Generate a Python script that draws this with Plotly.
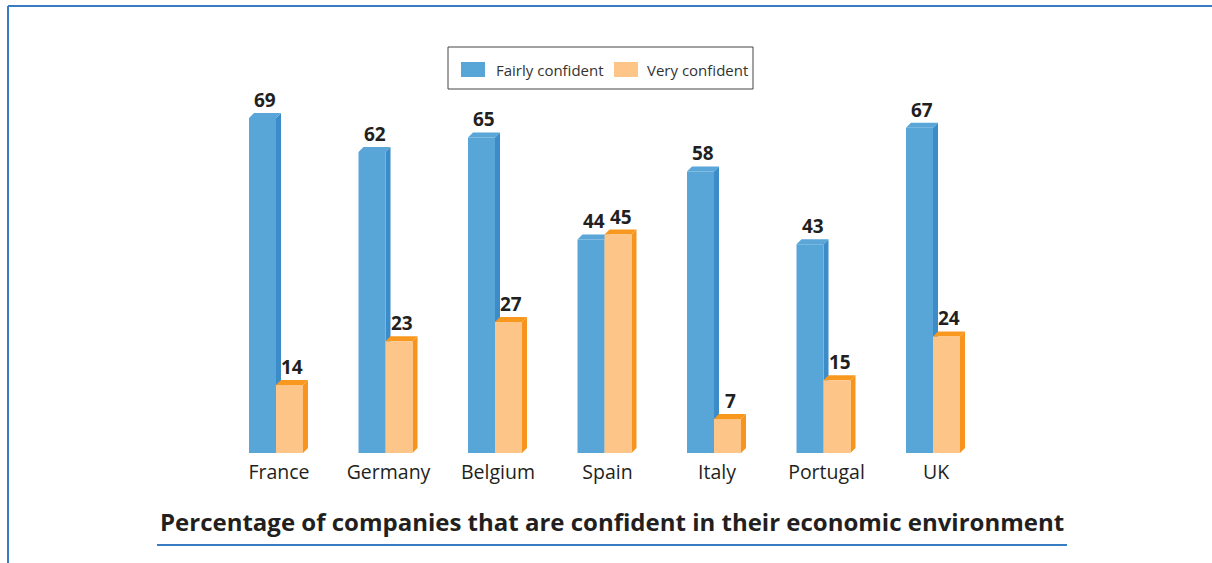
import plotly.graph_objects as go

# Survey results by country (percent of companies)
countries = ["France", "Germany", "Belgium", "Spain", "Italy", "Portugal", "UK"]
fairly_confident = [69, 62, 65, 44, 58, 43, 67]
very_confident = [14, 23, 27, 45, 7, 15, 24]
series_names = ["Fairly confident", "Very confident"]
chart_title = "Percentage of companies that are confident in their economic environment"

W, H = 1212, 563
M_L, M_R, M_T, M_B = 0, 0, 60, 110
PX_PER_CAT = 109.5          # horizontal pixels per category
PX_PER_UNIT = 4.855         # vertical pixels per percent
X0_PX = 276                 # pixel position of the first category

x_lo = -X0_PX / PX_PER_CAT
x_hi = x_lo + W / PX_PER_CAT
plot_h = H - M_T - M_B
y_hi = plot_h / PX_PER_UNIT

BARGAP = 0.507
bw = (1 - BARGAP) / 2       # single bar width in axis units
dx = 5 / PX_PER_CAT         # depth offset of the 3D faces
dy = 5 / PX_PER_UNIT

BLUE_FRONT, BLUE_SIDE, BLUE_TOP = "#58a6d7", "#3b8cc9", "#5aa6d8"
ORANGE_FRONT, ORANGE_SIDE, ORANGE_TOP = "#fdc688", "#f7941e", "#f8981f"
TEXT = "#231f20"
FONT = "Open Sans"

xs = list(range(len(countries)))

fig = go.Figure()
fig.add_trace(go.Bar(x=xs, y=fairly_confident, name=series_names[0],
                     marker=dict(color=BLUE_FRONT, line=dict(width=0))))
fig.add_trace(go.Bar(x=xs, y=very_confident, name=series_names[1],
                     marker=dict(color=ORANGE_FRONT, line=dict(width=0))))

shapes = []
annotations = []


def add_depth(left, value, side_col, top_col):
    right = left + bw
    side = (f"M{right},0 L{right + dx},{dy} L{right + dx},{value + dy} "
            f"L{right},{value} Z")
    top = (f"M{left},{value} L{left + dx},{value + dy} "
           f"L{right + dx},{value + dy} L{right},{value} Z")
    shapes.append(dict(type="path", path=side, fillcolor=side_col,
                       line=dict(width=0), layer="below"))
    shapes.append(dict(type="path", path=top, fillcolor=top_col,
                       line=dict(width=0), layer="below"))
    annotations.append(dict(x=left + bw / 2 + dx / 2, y=value + dy, xref="x", yref="y",
                            text=f"<b>{value}</b>", showarrow=False,
                            yanchor="bottom", yshift=-2,
                            font=dict(family=FONT, size=19, color=TEXT)))


for i, v in zip(xs, fairly_confident):
    add_depth(i - bw, v, BLUE_SIDE, BLUE_TOP)
for i, v in zip(xs, very_confident):
    add_depth(i, v, ORANGE_SIDE, ORANGE_TOP)


def py(p):
    """Paper y coordinate for a pixel row."""
    return (H - M_B - p) / plot_h


def px(p):
    """Paper x coordinate for a pixel column."""
    return p / W


# Frame lines along the top and left edge
frame = "#3a7cc1"
shapes.append(dict(type="line", xref="paper", yref="paper",
                   x0=px(8), x1=1.0, y0=py(6), y1=py(6),
                   line=dict(color=frame, width=2)))
shapes.append(dict(type="line", xref="paper", yref="paper",
                   x0=px(8), x1=px(8), y0=py(6), y1=py(H),
                   line=dict(color=frame, width=2)))
# Rule under the title
shapes.append(dict(type="line", xref="paper", yref="paper",
                   x0=px(157), x1=px(1067), y0=py(545), y1=py(545),
                   line=dict(color=frame, width=2)))

# Boxed legend
shapes.append(dict(type="rect", xref="paper", yref="paper",
                   x0=px(448), x1=px(753), y0=py(47), y1=py(89),
                   line=dict(color="#444444", width=1), fillcolor="white"))
legend_items = [(series_names[0], BLUE_FRONT, 461, 494),
                (series_names[1], ORANGE_FRONT, 614, 645)]
for label, col, sw_x, tx in legend_items:
    shapes.append(dict(type="rect", xref="paper", yref="paper",
                       x0=px(sw_x), x1=px(sw_x + 24), y0=py(62), y1=py(77),
                       line=dict(width=0), fillcolor=col))
    annotations.append(dict(x=px(tx), y=py(70), xref="paper", yref="paper",
                            text=label, showarrow=False,
                            xanchor="left", yanchor="middle",
                            font=dict(family=FONT, size=15, color="#333333")))

annotations.append(dict(x=px(612), y=py(521), xref="paper", yref="paper",
                        text=f"<b>{chart_title}</b>", showarrow=False,
                        xanchor="center", yanchor="middle",
                        font=dict(family=FONT, size=24, color=TEXT)))

fig.update_layout(
    width=W, height=H,
    margin=dict(l=M_L, r=M_R, t=M_T, b=M_B),
    paper_bgcolor="white", plot_bgcolor="white",
    barmode="group", bargap=BARGAP, bargroupgap=0,
    shapes=shapes, annotations=annotations,
    font=dict(family=FONT, color=TEXT),
    showlegend=False,
    xaxis=dict(range=[x_lo, x_hi], tickmode="array", tickvals=xs, ticktext=countries,
               showgrid=False, zeroline=False, showline=False,
               ticks="outside", ticklen=2, tickcolor="rgba(0,0,0,0)",
               ticklabelshift=3,
               tickfont=dict(family=FONT, size=19.5, color=TEXT)),
    yaxis=dict(range=[0, y_hi], showgrid=False, zeroline=False,
               showticklabels=False, showline=False),
)

fig.write_html("out.html")
